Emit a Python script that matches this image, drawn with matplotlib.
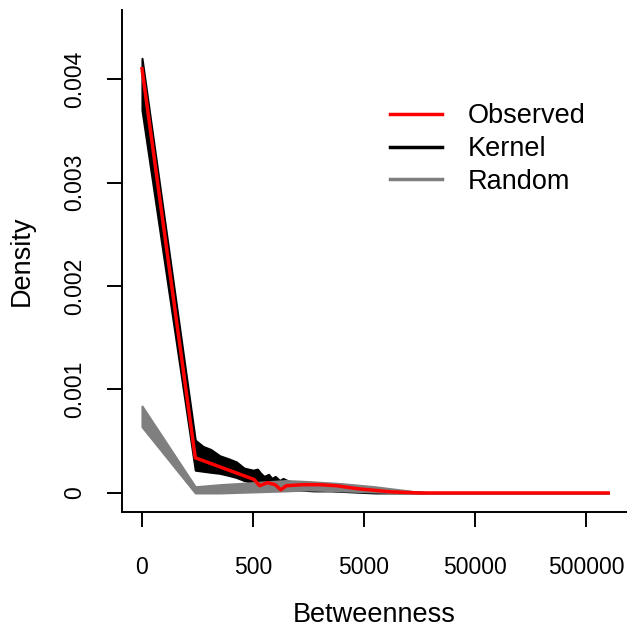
import matplotlib
matplotlib.use("Agg")
import matplotlib.pyplot as plt

plt.rcParams["font.family"] = ["Liberation Sans", "DejaVu Sans"]

# x positions are in axis units: 0 -> "0", 1 -> "500", 2 -> "5000", ...
tick_pos = [0, 1, 2, 3, 4]
tick_labels = ["0", "500", "5000", "50000", "500000"]
y_ticks = [0, 0.001, 0.002, 0.003, 0.004]
y_labels = ["0", "0.001", "0.002", "0.003", "0.004"]

obs_x = [0, 0.48, 0.96, 1.01, 1.06, 1.13, 1.2, 1.25, 1.3, 1.45, 1.6, 1.75, 1.95, 2.25, 2.5, 4.2]
obs_y = [0.0041, 0.00034, 0.00015, 0.00013, 0.00007, 0.0001, 0.00008, 0.00003, 0.00007,
         0.00008, 0.00008, 0.00007, 0.00004, 0.00001, 0.0, 0.0]

kern_x = [0, 0.48, 0.55, 0.62, 0.7, 0.78, 0.85, 0.92, 1.0, 1.04, 1.07, 1.1, 1.14, 1.17,
          1.2, 1.24, 1.27, 1.33, 1.4, 1.55, 1.7, 1.9, 2.1, 2.3, 2.5, 2.6, 4.2]
kern_hi = [0.0042, 0.00051, 0.00045, 0.00042, 0.00036, 0.00033, 0.0003, 0.00024, 0.00022,
           0.00023, 0.00019, 0.00016, 0.00018, 0.00014, 0.00016, 0.00012, 0.00014, 0.00011,
           0.0001, 0.00008, 0.00007, 0.00005, 0.00003, 0.00002, 0.00001, 0.0, 0.0]
kern_lo = [0.0037, 0.00022, 0.00021, 0.0002, 0.00019, 0.00017, 0.00015, 0.00012, 0.0001,
           0.00009, 0.00008, 0.00007, 0.00006, 0.00006, 0.00005, 0.00004, 0.00004, 0.00003,
           0.00003, 0.00002, 0.00002, 0.00001, 0.0, 0.0, 0.0, 0.0, 0.0]

rand_x = [0, 0.48, 0.7, 1.0, 1.3, 1.5, 1.8, 2.1, 2.4, 2.55, 4.2]
rand_hi = [0.00084, 0.00006, 0.00008, 0.0001, 0.00012, 0.00011, 0.00009, 0.00006, 0.00002, 0.0, 0.0]
rand_lo = [0.00064, 0.0, 0.0, 0.00001, 0.00002, 0.00003, 0.00002, 0.00001, 0.0, 0.0, 0.0]

fig = plt.figure(figsize=(6.28, 6.30), dpi=100)
ax = fig.add_axes([122 / 628, 118 / 630, 504 / 628, 502 / 630])

ax.fill_between(kern_x, kern_lo, kern_hi, color="black", linewidth=1.5, edgecolor="black")
ax.fill_between(rand_x, rand_lo, rand_hi, color="#7f7f7f", linewidth=1.5, edgecolor="#7f7f7f")
ax.plot(obs_x, obs_y, color="red", linewidth=2.5, solid_joinstyle="round")

ax.set_xlim(-0.18, 4.36)
ax.set_ylim(-0.000184, 0.004667)

ax.set_xticks(tick_pos)
ax.set_xticklabels(tick_labels, fontsize=16.5)
ax.set_yticks(y_ticks)
ax.set_yticklabels(y_labels, fontsize=16.5, rotation=90, va="center")

for side in ["top", "right"]:
    ax.spines[side].set_visible(False)
for side in ["left", "bottom"]:
    ax.spines[side].set_linewidth(1.4)
ax.tick_params(axis="both", length=11, width=1.4)
ax.tick_params(axis="x", pad=21)
ax.tick_params(axis="y", pad=15)

ax.set_xlabel("Betweenness", fontsize=19.5, labelpad=16)
ax.set_ylabel("Density", fontsize=19.5, labelpad=20)

handles = [
    plt.Line2D([], [], color="red", linewidth=2.5),
    plt.Line2D([], [], color="black", linewidth=2.5),
    plt.Line2D([], [], color="#7f7f7f", linewidth=2.5),
]
ax.legend(handles, ["Observed", "Kernel", "Random"], frameon=False, fontsize=19.5,
          loc="upper left", bbox_to_anchor=(385 / 628, 1 - 98 / 630),
          bbox_transform=fig.transFigure, handlelength=1.9, handletextpad=0.95,
          labelspacing=0.25, borderaxespad=0, borderpad=0.2)

fig.savefig("out.png", dpi=100)
